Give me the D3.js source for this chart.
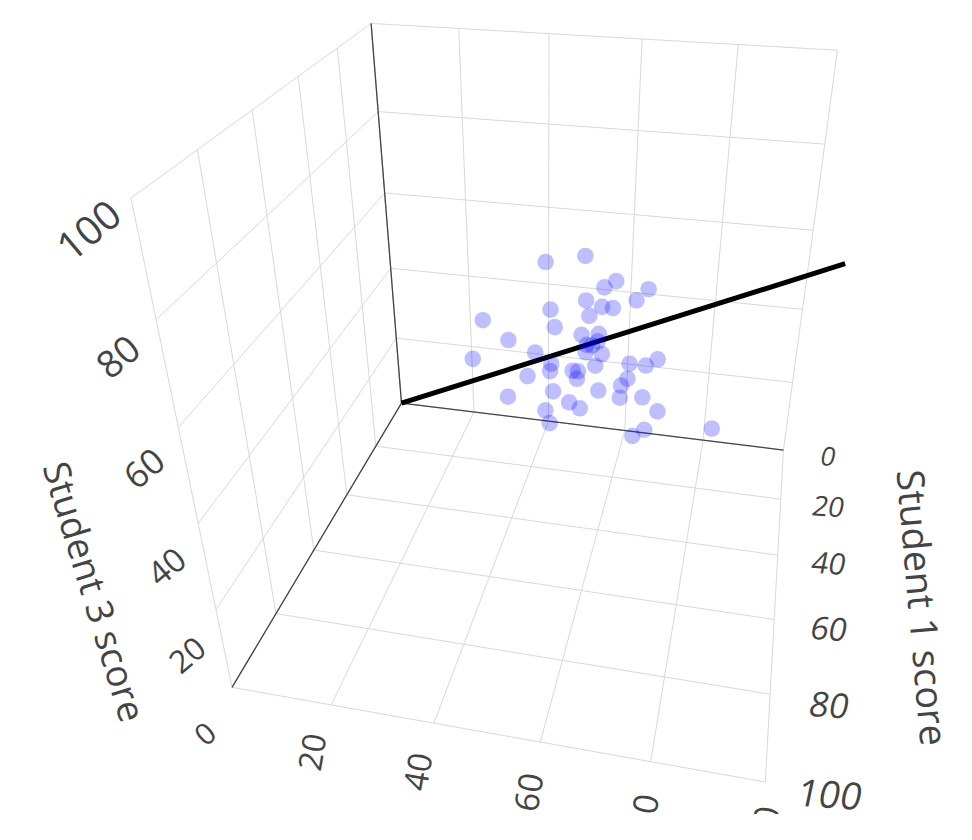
<!DOCTYPE html>
<html><head><meta charset="utf-8">
<script src="https://cdn.jsdelivr.net/npm/d3@7"></script>
<style>body{margin:0;background:#fff}</style>
</head><body>
<svg id="chart" width="972" height="840"></svg>
<script>
// ---- data ----
const student1 = [54,52,53,54,53,54,56,56,56,59,58,62,60,63,60,59,60,60,60,61,61,66,63,63,64,65,63,63,64,62,60,59,60,62,63,64,68,66,64,63,68,66,66,64,69,66,67,63];
const student2 = [51,58,64,62,70,68,59,62,64,53,60,41,54,46,59,62,60,61,62,63,60,40,51,54,54,50,58,59,59,62,68,73,71,68,67,63,47,55,67,71,54,58,60,74,55,72,70,84];
const student3 = [73,74,70,69,69,67,67,66,66,66,65,64,63,61,62,62,60,60,61,59,59,58,59,57,56,55,56,56,55,57,57,58,57,55,54,53,52,53,52,52,50,51,50,50,48,47,46,47];
const lineStart = [0,0,0];
const lineEnd = [100,100,100];
const tickValues = [0,20,40,60,80,100];
const axisTitles = {s1:"Student 1 score", s3:"Student 3 score"};

// ---- camera (perspective view of the unit cube) ----
const camera = {azimuth:0.21376, elevation:0.53616, distance:4.14836,
  center:[0.14579,0.03536,0.12875], focal:1104.05, cx:545.92, cy:349.35};

const W=972, H=840;
const sx=d3.scaleLinear().domain([0,100]).range([-1,1]);
const sy=d3.scaleLinear().domain([0,100]).range([-1,1]);
const sz=d3.scaleLinear().domain([0,100]).range([-1,1]);

const sub=(a,b)=>[a[0]-b[0],a[1]-b[1],a[2]-b[2]];
const mul=(a,s)=>[a[0]*s,a[1]*s,a[2]*s];
const dot=(a,b)=>a[0]*b[0]+a[1]*b[1]+a[2]*b[2];
const cross=(a,b)=>[a[1]*b[2]-a[2]*b[1],a[2]*b[0]-a[0]*b[2],a[0]*b[1]-a[1]*b[0]];
const unit=a=>mul(a,1/Math.sqrt(dot(a,a)));
const C=camera.center, r=camera.distance, th=camera.azimuth, ph=camera.elevation;
const eye=[C[0]+r*Math.cos(ph)*Math.cos(th), C[1]+r*Math.cos(ph)*Math.sin(th), C[2]+r*Math.sin(ph)];
const fwd=unit(sub(C,eye)), right=unit(cross(fwd,[0,0,1])), upv=cross(right,fwd);
function project(d){
  const q=sub([sx(d[0]),sy(d[1]),sz(d[2])],eye);
  const z=dot(q,fwd);
  return [camera.cx+camera.focal*dot(q,right)/z, camera.cy-camera.focal*dot(q,upv)/z, z];
}

const svg=d3.select("#chart");
svg.append("rect").attr("width",W).attr("height",H).attr("fill","#fff");
svg.append("clipPath").attr("id","sceneclip").append("rect").attr("width",W).attr("height",814);
const g=svg.append("g").attr("clip-path","url(#sceneclip)");

// grid on the three back walls
const grid=[];
tickValues.forEach(t=>{
  grid.push([[0,t,0],[0,t,100]],[[0,0,t],[0,100,t]]);   // back wall (student1 = 0)
  grid.push([[t,0,0],[t,0,100]],[[0,0,t],[100,0,t]]);   // left wall (student2 = 0)
  grid.push([[t,0,0],[t,100,0]],[[0,t,0],[100,t,0]]);   // floor (student3 = 0)
});
const seg=(sel)=>sel.attr("x1",s=>project(s[0])[0]).attr("y1",s=>project(s[0])[1])
  .attr("x2",s=>project(s[1])[0]).attr("y2",s=>project(s[1])[1]);
g.append("g").selectAll("line").data(grid).join("line").attr("stroke","rgb(216,216,216)").attr("stroke-width",1).call(seg);
const zero=[[[0,0,0],[0,0,100]],[[0,0,0],[0,100,0]],[[0,0,0],[100,0,0]]];
g.append("g").selectAll("line").data(zero).join("line").attr("stroke","#444").attr("stroke-width",1.3).call(seg);

// trend line
g.append("g").selectAll("line").data([[lineStart,lineEnd]]).join("line")
  .attr("stroke","#000").attr("stroke-width",5).call(seg);

// scatter points
const pts=student1.map((v,i)=>[v,student2[i],student3[i]]);
g.append("g").selectAll("circle").data(pts).join("circle")
  .attr("r",8.3).attr("fill","rgb(0,0,255)").attr("fill-opacity",0.25)
  .attr("cx",d=>project(d)[0]).attr("cy",d=>project(d)[1]);

// tick labels (placed in 3D, sized by depth)
const font="'Open Sans', 'DejaVu Sans', sans-serif";
function label(pos, txt, tf, k){
  const q=project(pos);
  g.append("text").attr("transform",`translate(${q[0].toFixed(1)},${q[1].toFixed(1)}) ${tf}`)
   .attr("text-anchor","middle").attr("dominant-baseline","central")
   .attr("font-family",font).attr("font-size",(k/q[2]).toFixed(1)).attr("fill","#444").text(txt);
}
tickValues.forEach(t=>{
  label([t,111,0], t, "rotate(4) skewX(-8)", 142);
  if(t>0) label([110,t,-1], t, "rotate(-80)", 128);
  label([111,0,t], t, "rotate(-40)", 120);
});
// axis titles
function title(pos, txt, rot, size){
  const q=project(pos);
  g.append("text").attr("transform",`translate(${q[0].toFixed(1)},${q[1].toFixed(1)}) rotate(${rot})`)
   .attr("text-anchor","middle").attr("dominant-baseline","central")
   .attr("font-family",font).attr("font-size",size).attr("fill","#444").text(txt);
}
title([50,130,0], axisTitles.s1, 85, 38);
title([128,0,50], axisTitles.s3, 73, 37);
</script></body></html>
